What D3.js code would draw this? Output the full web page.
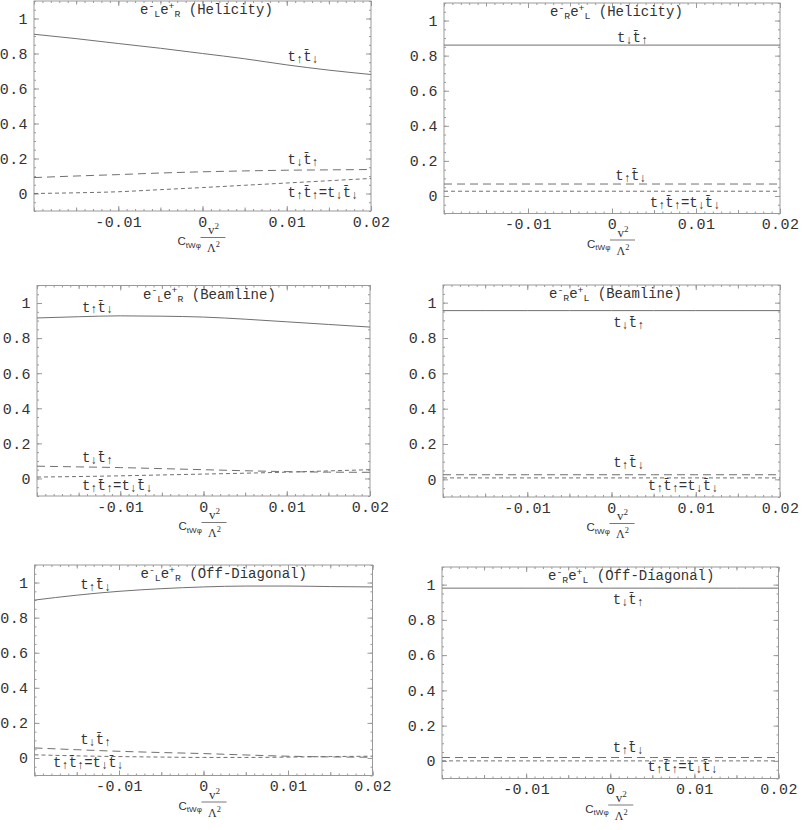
<!DOCTYPE html>
<html>
<head>
<meta charset="utf-8">
<script src="https://cdn.jsdelivr.net/npm/d3@7"></script>
<style>
  body { margin: 0; background: #fff; }
  svg { display: block; }
</style>
</head>
<body>
<svg width="802" height="830"></svg>
<script>
// x values (C_tWphi v^2 / Lambda^2) where the curves were read
let xs = [-0.02, -0.015, -0.01, -0.005, 0, 0.005, 0.01, 0.015, 0.02]

// e-_L e+_R, helicity basis
let helLR_solid = [0.91, 0.885, 0.857, 0.83, 0.80, 0.77, 0.735, 0.705, 0.68]
let helLR_long  = [0.091, 0.10, 0.108, 0.117, 0.124, 0.129, 0.133, 0.135, 0.137]
let helLR_short = [0.0, 0.004, 0.01, 0.022, 0.034, 0.047, 0.06, 0.073, 0.086]
// e-_R e+_L, helicity basis
let helRL_solid = [0.86, 0.86, 0.86, 0.86, 0.86, 0.86, 0.86, 0.86, 0.86]
let helRL_long  = [0.068, 0.068, 0.068, 0.068, 0.068, 0.068, 0.068, 0.068, 0.068]
let helRL_short = [0.027, 0.027, 0.027, 0.027, 0.027, 0.027, 0.027, 0.027, 0.027]

// beamline basis
let beamLR_solid = [0.915, 0.922, 0.927, 0.925, 0.92, 0.908, 0.893, 0.878, 0.863]
let beamLR_long  = [0.07, 0.066, 0.062, 0.056, 0.05, 0.044, 0.039, 0.036, 0.035]
let beamLR_short = [0.008, 0.011, 0.015, 0.02, 0.025, 0.03, 0.036, 0.043, 0.05]
let beamRL_solid = [0.955, 0.955, 0.955, 0.955, 0.955, 0.955, 0.955, 0.955, 0.955]
let beamRL_long  = [0.026, 0.026, 0.026, 0.026, 0.026, 0.026, 0.026, 0.026, 0.026]
let beamRL_short = [0.008, 0.008, 0.008, 0.008, 0.008, 0.008, 0.008, 0.008, 0.008]

// off-diagonal basis
let offLR_solid = [0.90, 0.928, 0.95, 0.965, 0.975, 0.98, 0.98, 0.977, 0.975]
let offLR_long  = [0.057, 0.047, 0.038, 0.031, 0.025, 0.017, 0.01, 0.006, 0.004]
let offLR_short = [0.018, 0.012, 0.008, 0.005, 0.003, 0.003, 0.005, 0.008, 0.01]
let offRL_solid = [0.98, 0.98, 0.98, 0.98, 0.98, 0.98, 0.98, 0.98, 0.98]
let offRL_long  = [0.019, 0.019, 0.019, 0.019, 0.019, 0.019, 0.019, 0.019, 0.019]
let offRL_short = [0.0, 0.0, 0.0, 0.0, 0.0, 0.0, 0.0, 0.0, 0.0]

// tick labels
let xTicks = [-0.01, 0, 0.01, 0.02]
let xTickLabels = ['-0.01', '0', '0.01', '0.02']
let yTicks = [0, 0.2, 0.4, 0.6, 0.8, 1]
let yTickLabels = ['0', '0.2', '0.4', '0.6', '0.8', '1']

let mono = "'Liberation Mono', 'DejaVu Sans Mono', monospace"
let ink = '#333'
let frameColor = '#999'
let lineColor = '#707070'

let UD = [['t'], ['\u2191', 'arr'], ['t\u0304'], ['\u2193', 'arr']]
let DU = [['t'], ['\u2193', 'arr'], ['t\u0304'], ['\u2191', 'arr']]
let SAME = [['t'], ['\u2191', 'arr'], ['t\u0304'], ['\u2191', 'arr'], ['='],
            ['t'], ['\u2193', 'arr'], ['t\u0304'], ['\u2193', 'arr']]

let panels = [
  { beams: ['L', 'R'], scheme: 'Helicity', box: { l: 34, r: 371, t: 1, b: 211 },
    series: [helLR_solid, helLR_long, helLR_short],
    labels: [[UD, 0.0101, 0.757], [DU, 0.0101, 0.169], [SAME, 0.0101, -0.02]] },
  { beams: ['R', 'L'], scheme: 'Helicity', box: { l: 444, r: 780, t: 3, b: 213.5 },
    series: [helRL_solid, helRL_long, helRL_short],
    labels: [[DU, 0.0006, 0.878], [UD, 0.0004, 0.091], [SAME, 0.0045, -0.063]] },
  { beams: ['L', 'R'], scheme: 'Beamline', box: { l: 37, r: 370, t: 285.5, b: 496 },
    series: [beamLR_solid, beamLR_long, beamLR_short],
    labels: [[UD, -0.0146, 0.95], [DU, -0.0146, 0.093], [SAME, -0.0146, -0.067]] },
  { beams: ['R', 'L'], scheme: 'Beamline', box: { l: 443, r: 780, t: 285, b: 497 },
    series: [beamRL_solid, beamRL_long, beamRL_short],
    labels: [[DU, 0.0002, 0.862], [UD, 0.0002, 0.07], [SAME, 0.0043, -0.06]] },
  { beams: ['L', 'R'], scheme: 'Off-Diagonal', box: { l: 34.5, r: 372.5, t: 565, b: 775.5 },
    series: [offLR_solid, offLR_long, offLR_short],
    labels: [[UD, -0.0146, 0.963], [DU, -0.0146, 0.08], [SAME, -0.0178, -0.051]] },
  { beams: ['R', 'L'], scheme: 'Off-Diagonal', box: { l: 442, r: 778.5, t: 567, b: 778.5 },
    series: [offRL_solid, offRL_long, offRL_short],
    labels: [[DU, 0.0003, 0.89], [UD, 0.0003, 0.05], [SAME, 0.0044, -0.057]] }
]

let dashes = [null, '8,5', '4,3']

let svg = d3.select('svg')

// text made of plain / sub / sup / arrow pieces
let richText = (g, tokens, x, y, size, family, anchor) => {
  let t = g.append('text')
    .attr('x', x).attr('y', y)
    .attr('font-family', family)
    .attr('font-size', size)
    .attr('fill', ink)
    .attr('text-anchor', anchor || 'start')
  let shift = 0
  tokens.forEach(([s, pos]) => {
    let target = pos === 'sub' ? size * 0.22 : pos === 'arr' ? size * 0.12 : pos === 'sup' ? -size * 0.38 : 0
    let fs = pos === 'arr' ? size * 0.85 : pos ? size * 0.7 : size
    t.append('tspan')
      .attr('dy', target - shift)
      .attr('font-size', fs)
      .text(s)
    shift = target
  })
  return t
}

let styleAxis = (g) => {
  g.attr('color', frameColor)
    .attr('font-family', mono)
    .attr('font-size', 15)
  g.select('.domain').remove()
  g.selectAll('text').attr('fill', ink).attr('letter-spacing', 0.4)
}

let drawPanel = (p) => {
  let { l, r, t, b } = p.box
  let x = d3.scaleLinear().domain([-0.02, 0.02]).range([l, r])
  let y = d3.scaleLinear().domain([-0.1, 1.1]).range([b, t])
  let g = svg.append('g')

  let xMinor = d3.range(-20, 21).map(i => i / 1000)
  let xMid = d3.range(-4, 5).map(i => i * 0.005)
  let yMinor = d3.range(-2, 23).map(i => i * 0.05)

  // minor ticks, all four sides
  g.append('g').attr('transform', 'translate(0,' + b + ')')
    .call(d3.axisBottom(x).tickValues(xMinor).tickSize(-2).tickFormat('')).call(styleAxis)
  g.append('g').attr('transform', 'translate(0,' + t + ')')
    .call(d3.axisTop(x).tickValues(xMinor).tickSize(-2).tickFormat('')).call(styleAxis)
  g.append('g').attr('transform', 'translate(0,' + b + ')')
    .call(d3.axisBottom(x).tickValues(xMid).tickSize(-3.5).tickFormat('')).call(styleAxis)
  g.append('g').attr('transform', 'translate(0,' + t + ')')
    .call(d3.axisTop(x).tickValues(xMid).tickSize(-3.5).tickFormat('')).call(styleAxis)
  g.append('g').attr('transform', 'translate(' + l + ',0)')
    .call(d3.axisLeft(y).tickValues(yMinor).tickSize(-2).tickFormat('')).call(styleAxis)
  g.append('g').attr('transform', 'translate(' + r + ',0)')
    .call(d3.axisRight(y).tickValues(yMinor).tickSize(-2).tickFormat('')).call(styleAxis)

  // major ticks with labels
  g.append('g').attr('transform', 'translate(0,' + b + ')')
    .call(d3.axisBottom(x).tickValues(xTicks).tickSize(-5).tickPadding(5)
      .tickFormat((d, i) => xTickLabels[i])).call(styleAxis)
  g.append('g').attr('transform', 'translate(0,' + t + ')')
    .call(d3.axisTop(x).tickValues(xTicks).tickSize(-5).tickFormat('')).call(styleAxis)
  g.append('g').attr('transform', 'translate(' + l + ',0)')
    .call(d3.axisLeft(y).tickValues(yTicks).tickSize(-5).tickPadding(6)
      .tickFormat((d, i) => yTickLabels[i])).call(styleAxis)
  g.append('g').attr('transform', 'translate(' + r + ',0)')
    .call(d3.axisRight(y).tickValues(yTicks).tickSize(-5).tickFormat('')).call(styleAxis)

  g.append('rect')
    .attr('x', l).attr('y', t)
    .attr('width', r - l).attr('height', b - t)
    .attr('fill', 'none')
    .attr('stroke', frameColor)
    .attr('stroke-width', 1)

  // curves
  let line = d3.line()
    .x((d, i) => x(xs[i]))
    .y(d => y(d))
    .curve(d3.curveMonotoneX)
  p.series.forEach((s, k) => {
    g.append('path')
      .attr('d', line(s))
      .attr('fill', 'none')
      .attr('stroke', lineColor)
      .attr('stroke-width', 1)
      .attr('stroke-dasharray', dashes[k])
  })

  // curve labels
  p.labels.forEach(([tokens, lx, ly]) => {
    richText(g, tokens, x(lx), y(ly), 14, mono)
  })

  // title
  let [a, c] = p.beams
  richText(g, [['e'], ['-', 'sup'], [a, 'sub'], ['e'], ['+', 'sup'], [c, 'sub'], [' (' + p.scheme + ')']],
    l + 106, t + 13, 14, mono)

  // x axis label: C_tWphi v^2 / Lambda^2
  let cx = (l + r) / 2
  richText(g, [['C'], ['tW\u03c6', 'sub']], cx - 25, b + 34, 11.5, "'Liberation Sans', Arial, sans-serif")
  richText(g, [['v'], ['2', 'sup']], cx + 11, b + 23, 13, "'Liberation Serif', serif", 'middle')
  g.append('line')
    .attr('x1', cx - 2).attr('x2', cx + 23)
    .attr('y1', b + 26.5).attr('y2', b + 26.5)
    .attr('stroke', '#555').attr('stroke-width', 0.8)
  richText(g, [['\u039b'], ['2', 'sup']], cx + 11, b + 41, 12, "'Liberation Serif', serif", 'middle')
}

panels.forEach(drawPanel)
</script>
</body>
</html>
